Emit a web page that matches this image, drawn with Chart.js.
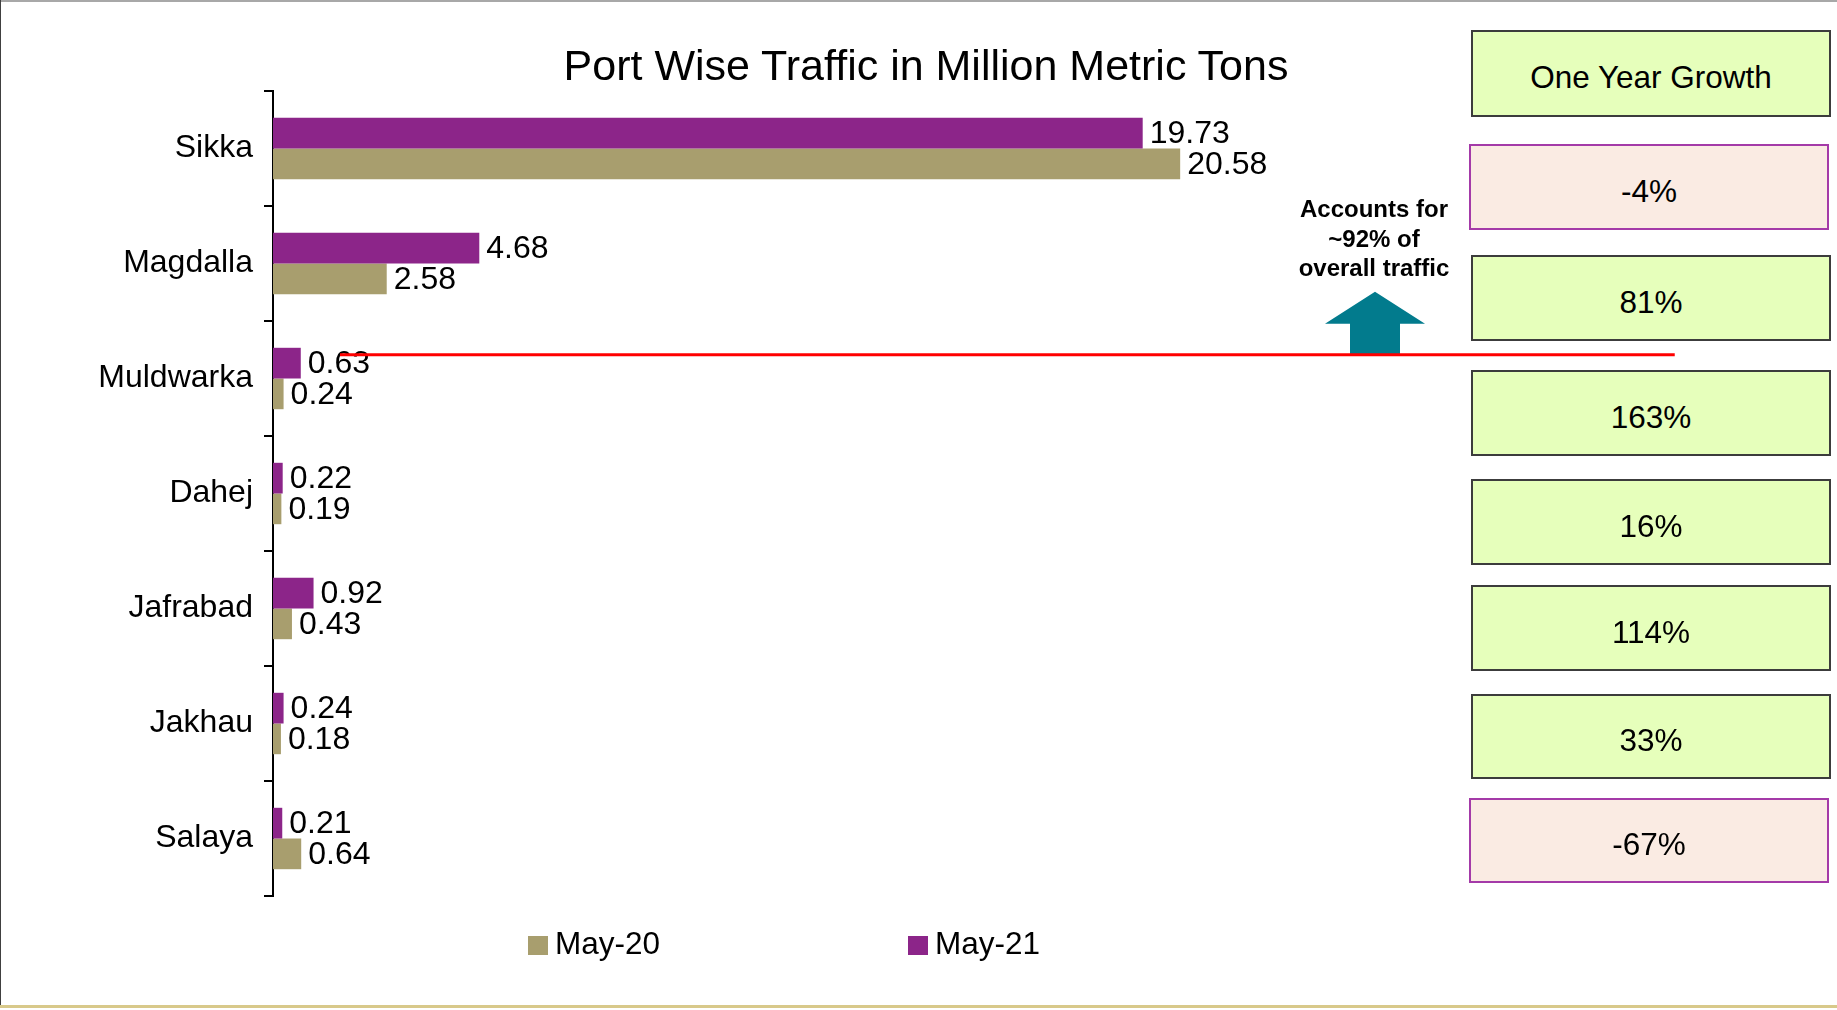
<!DOCTYPE html>
<html lang="en">
<head>
  <meta charset="UTF-8" />
  <title>Port Wise Traffic in Million Metric Tons</title>
  <script src="https://cdn.jsdelivr.net/npm/chart.js"></script>
  <style>
    html, body {
      margin: 0;
      padding: 0;
      background: #fff;
    }
    body {
      width: 1837px;
      height: 1010px;
      position: relative;
      overflow: hidden;
      font-family: "Liberation Sans", Arial, sans-serif;
      color: #000;
    }
    .frame-top { position: absolute; left: 0; top: 0; width: 1837px; height: 2px; background: #a8a8a8; }
    .frame-left { position: absolute; left: 0; top: 0; width: 1px; height: 1006px; background: #404040; }
    .frame-bottom { position: absolute; left: 0; top: 1005px; width: 1837px; height: 3px; background: #d8c98a; }
    #chart { position: absolute; left: 0; top: 0; }
    .title {
      position: absolute;
      left: 426px;
      width: 1000px;
      top: 41px;
      height: 48px;
      line-height: 48px;
      text-align: center;
      font-size: 43px;
    }
    .note {
      position: absolute;
      left: 1274px;
      width: 200px;
      top: 194px;
      text-align: center;
      font-weight: bold;
      font-size: 24px;
      line-height: 29.5px;
    }
    .box {
      position: absolute;
      box-sizing: border-box;
      display: flex;
      align-items: center;
      justify-content: center;
      padding-top: 8px;
      font-size: 31.5px;
      background: #e6ffbb;
      border: 2px solid #3c3c3c;
    }
    .box.neg {
      background: #faebe3;
      border: 2px solid #a43aa8;
    }
    .legend {
      position: absolute;
      top: 922px;
      height: 42px;
      line-height: 42px;
      font-size: 31.5px;
      white-space: nowrap;
    }
    .legend i {
      display: inline-block;
      width: 20px;
      height: 19px;
      margin-right: 7px;
      vertical-align: -1px;
    }
  </style>
</head>
<body>
  <div class="frame-top"></div>
  <div class="frame-left"></div>
  <div class="frame-bottom"></div>

  <canvas id="chart" width="1837" height="1010"></canvas>

  <div class="title">Port Wise Traffic in Million Metric Tons</div>
  <div class="note">Accounts for<br>~92% of<br>overall traffic</div>
  <div id="boxes"></div>
  <div id="legend"></div>

  <script>
    // data
    const ports = ["Sikka", "Magdalla", "Muldwarka", "Dahej", "Jafrabad", "Jakhau", "Salaya"];
    const may20 = [20.58, 2.58, 0.24, 0.19, 0.43, 0.18, 0.64];
    const may21 = [19.73, 4.68, 0.63, 0.22, 0.92, 0.24, 0.21];
    const growthTitle = "One Year Growth";
    const growth = ["-4%", "81%", "163%", "16%", "114%", "33%", "-67%"];

    const colMay20 = "#a89e6e";
    const colMay21 = "#8c2589";

    // growth boxes on the right
    const boxRows = [
      [1471, 30, 360, 87],
      [1469, 144, 360, 86],
      [1471, 255, 360, 86],
      [1471, 370, 360, 86],
      [1471, 479, 360, 86],
      [1471, 585, 360, 86],
      [1471, 694, 360, 85],
      [1469, 798, 360, 85]
    ];
    const boxesEl = document.getElementById("boxes");
    [growthTitle].concat(growth).forEach((txt, i) => {
      const d = document.createElement("div");
      d.className = "box" + (txt.startsWith("-") ? " neg" : "");
      const r = boxRows[i];
      d.style.left = r[0] + "px";
      d.style.top = r[1] + "px";
      d.style.width = r[2] + "px";
      d.style.height = r[3] + "px";
      d.textContent = txt;
      boxesEl.appendChild(d);
    });

    // legend
    const legendEl = document.getElementById("legend");
    [["May-20", colMay20, 528], ["May-21", colMay21, 908]].forEach(([label, color, left]) => {
      const d = document.createElement("div");
      d.className = "legend";
      d.style.left = left + "px";
      d.innerHTML = `<i style="background:${color}"></i>${label}`;
      legendEl.appendChild(d);
    });

    // value labels, red divider and arrow
    const extras = {
      id: "extras",
      afterDatasetsDraw(chart) {
        const ctx = chart.ctx;
        const xs = chart.scales.x, ys = chart.scales.y;
        ctx.save();
        ctx.font = "32px 'Liberation Sans', Arial, sans-serif";
        ctx.fillStyle = "#000";
        ctx.textBaseline = "middle";
        ctx.textAlign = "left";
        chart.data.datasets.forEach((ds, di) => {
          chart.getDatasetMeta(di).data.forEach((bar, i) => {
            ctx.fillText(ds.data[i].toFixed(2), bar.x + 7, bar.y + 1);
          });
        });

        const lineY = ys.getPixelForValue(1.794);
        const ax = xs.getPixelForValue(25);
        ctx.fillStyle = "#027b8d";
        ctx.beginPath();
        ctx.moveTo(ax - 25, lineY);
        ctx.lineTo(ax - 25, lineY - 31);
        ctx.lineTo(ax - 50, lineY - 31);
        ctx.lineTo(ax, lineY - 63);
        ctx.lineTo(ax + 50, lineY - 31);
        ctx.lineTo(ax + 25, lineY - 31);
        ctx.lineTo(ax + 25, lineY);
        ctx.closePath();
        ctx.fill();

        ctx.strokeStyle = "#ff0000";
        ctx.lineWidth = 3;
        ctx.beginPath();
        ctx.moveTo(xs.getPixelForValue(1.52), lineY);
        ctx.lineTo(xs.getPixelForValue(31.8), lineY);
        ctx.stroke();
        ctx.restore();
      }
    };

    new Chart(document.getElementById("chart"), {
      type: "bar",
      data: {
        labels: ports,
        datasets: [
          { label: "May-21", data: may21, backgroundColor: colMay21 },
          { label: "May-20", data: may20, backgroundColor: colMay20 }
        ]
      },
      options: {
        indexAxis: "y",
        responsive: false,
        animation: false,
        categoryPercentage: 0.534,
        barPercentage: 1,
        layout: { padding: { left: 0, top: 91, bottom: 114, right: 462 } },
        scales: {
          x: { display: false, min: 0, max: 25 },
          y: {
            afterFit: s => { s.width = 273; },
            grid: { drawOnChartArea: false, tickLength: 9, color: "#000", lineWidth: 2 },
            border: { display: true, color: "#000", width: 2 },
            ticks: {
              color: "#000",
              padding: 11,
              font: { family: "'Liberation Sans', Arial, sans-serif", size: 32 }
            }
          }
        },
        plugins: {
          legend: { display: false },
          tooltip: { enabled: false }
        }
      },
      plugins: [extras]
    });
  </script>
</body>
</html>
